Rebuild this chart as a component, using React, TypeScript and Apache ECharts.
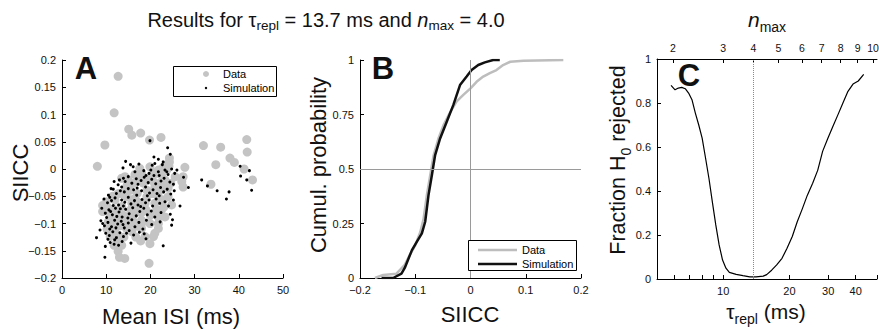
import React, { useEffect, useRef } from 'react';
import * as echarts from 'echarts';

const FONT = '"Liberation Sans", Arial, Helvetica, sans-serif';
const GRAY = '#c4c4c4';

// ---------- Panel A: Mean ISI (ms) vs SIICC ----------
const dataPoints: [number, number][] = [
  [12.7, 0.170], [11.8, 0.103], [9.7, 0.044], [15.1, 0.073], [15.8, 0.062], [17.8, 0.066], [19.8, 0.053], [22.4, 0.058], [8.0, 0.005],
  [32.0, 0.043], [35.9, 0.040], [41.8, 0.054], [41.9, 0.031], [38.0, 0.020], [39.0, 0.012], [34.8, 0.008], [41.2, 0.0], [43.1, -0.020], [33.7, -0.028],
  [24.3, 0.020], [24.3, 0.013], [24.2, 0.005], [27.8, 0.003], [27.4, -0.014], [27.1, -0.023], [27.4, -0.033], [25.6, -0.014], [24.6, -0.026], [23.3, -0.020], [24.8, -0.066], [24.0, -0.051], [22.9, -0.057],
  [21.8, -0.002], [21.4, -0.008], [22.5, -0.011], [21.0, -0.033], [22.2, -0.039], [17.6, 0.001], [18.0, -0.008], [17.5, -0.017], [16.9, -0.023], [18.4, -0.026], [19.2, -0.039], [19.9, 0.004], [19.9, -0.014], [21.0, -0.008], [20.7, -0.023], [21.4, -0.039], [22.2, -0.026], [23.0, 0.004], [23.7, -0.002], [23.3, -0.033], [19.2, -0.051], [18.8, -0.063], [21.8, -0.051], [21.0, -0.063],
  [22.5, -0.075], [23.3, -0.088], [21.8, -0.100], [21.8, -0.109], [21.0, -0.118], [20.7, -0.124], [19.9, -0.137], [18.0, -0.100], [18.0, -0.109], [18.8, -0.124], [19.7, -0.173], [17.8, -0.132], [21.4, -0.075], [21.8, -0.088], [19.9, -0.100],
  [9.2, -0.067], [9.2, -0.078], [10.1, -0.069], [10.9, -0.088], [10.5, -0.097], [11.2, -0.106], [11.6, -0.115], [10.9, -0.124], [12.4, -0.121], [12.75, -0.134], [12.0, -0.057], [12.75, -0.045], [13.5, -0.017], [14.25, -0.014], [14.6, -0.033], [15.4, -0.039], [14.6, -0.051], [15.8, -0.063], [16.9, -0.069], [16.5, -0.081], [15.0, -0.088], [15.4, -0.100], [15.8, -0.115], [14.6, -0.109], [13.5, -0.069], [13.9, -0.085], [12.75, -0.094], [18.0, -0.094], [12.7, -0.151], [13.0, -0.162], [14.2, -0.164], [11.0, -0.082], [12.0, -0.075], [13.2, -0.104], [14.0, -0.125], [16.0, -0.027], [15.0, -0.020], [17.0, -0.045], [16.3, -0.055], [11.5, -0.050],
  [10.0, -0.060], [10.5, -0.072], [11.5, -0.095], [12.0, -0.110], [13.0, -0.085], [14.0, -0.095], [15.5, -0.075], [16.0, -0.095], [17.0, -0.105], [16.7, -0.125], [13.5, -0.045], [14.8, -0.028], [16.5, -0.010], [17.0, -0.060], [18.0, -0.080], [19.0, -0.075], [20.0, -0.085], [19.5, -0.020], [20.5, -0.045], [23.0, -0.070], [10.2, -0.110], [11.8, -0.140], [13.5, -0.140], [24.0, -0.035],
];

const simulationPoints: [number, number][] = [
  [31.6, -0.020], [32.9, -0.031], [35.1, -0.040], [37.2, -0.055], [37.8, -0.042], [40.3, 0.005], [40.4, -0.013], [41.8, -0.020], [42.4, -0.003], [42.9, -0.039], [28.6, -0.034],
  [19.9, 0.052], [23.9, 0.039], [7.8, -0.126], [9.7, -0.162], [11.8, -0.138], [22.9, -0.141], [26.7, -0.068], [24.8, -0.103], [25.0, -0.093], [14.4, 0.014], [17.4, 0.009], [21.8, 0.018], [20.4, 0.007], [21.0, 0.010], [22.7, 0.008], [26.0, -0.002], [27.5, -0.015],
  [23.3, -0.002], [23.7, -0.005], [24.8, 0.0], [20.1, -0.002], [19.7, -0.008], [21.8, -0.005], [16.1, 0.004], [16.5, -0.005], [18.5, -0.003], [22.0, -0.012], [24.0, -0.010], [25.5, -0.008],
  [15.0, -0.014], [13.9, -0.017], [14.3, -0.023], [11.8, -0.023], [12.7, -0.029], [16.8, -0.018], [17.9, -0.021], [18.6, -0.015], [19.5, -0.025], [20.3, -0.019], [21.2, -0.027], [22.4, -0.022], [23.1, -0.017], [24.4, -0.024], [25.2, -0.028], [19.0, -0.012], [20.8, -0.012], [17.2, -0.028], [15.8, -0.026], [13.0, -0.020],
  [11.6, -0.037], [11.1, -0.036], [13.5, -0.033], [15.0, -0.036], [14.1, -0.042], [16.2, -0.038], [17.0, -0.035], [18.0, -0.040], [18.9, -0.033], [19.8, -0.044], [20.6, -0.038], [21.5, -0.045], [22.3, -0.034], [23.0, -0.042], [23.8, -0.037], [24.6, -0.046], [25.4, -0.040], [12.3, -0.045], [10.5, -0.048], [16.9, -0.048], [19.3, -0.049], [22.0, -0.049], [13.2, -0.040],
  [9.5, -0.055], [10.3, -0.062], [11.2, -0.058], [12.0, -0.053], [12.8, -0.066], [13.5, -0.057], [14.2, -0.061], [15.0, -0.052], [15.6, -0.064], [16.4, -0.058], [17.2, -0.066], [18.1, -0.056], [18.9, -0.062], [19.7, -0.057], [20.5, -0.068], [21.3, -0.055], [22.1, -0.063], [23.3, -0.060], [24.1, -0.068], [25.2, -0.057], [13.9, -0.068], [11.6, -0.067], [17.8, -0.069], [10.8, -0.052],
  [9.0, -0.072], [9.8, -0.081], [10.6, -0.075], [11.4, -0.084], [12.1, -0.072], [12.9, -0.079], [13.6, -0.088], [14.4, -0.074], [15.2, -0.082], [16.0, -0.071], [16.8, -0.086], [17.6, -0.078], [18.5, -0.072], [19.3, -0.084], [20.2, -0.077], [21.0, -0.088], [22.4, -0.080], [24.5, -0.083], [10.1, -0.089], [12.4, -0.087], [14.9, -0.090], [13.2, -0.073], [11.0, -0.078],
  [8.8, -0.095], [9.6, -0.104], [10.4, -0.098], [11.2, -0.106], [11.9, -0.094], [12.6, -0.101], [13.4, -0.096], [14.1, -0.108], [15.0, -0.099], [15.8, -0.093], [16.5, -0.106], [17.4, -0.098], [18.3, -0.110], [19.1, -0.094], [20.3, -0.102], [22.2, -0.097], [10.8, -0.110], [12.2, -0.108], [13.8, -0.102], [9.2, -0.100],
  [9.9, -0.118], [10.7, -0.122], [11.5, -0.115], [12.3, -0.126], [13.1, -0.117], [13.9, -0.124], [15.2, -0.113], [16.2, -0.121], [17.5, -0.116], [18.6, -0.119], [19.0, -0.128], [10.4, -0.129], [11.9, -0.130], [14.6, -0.118], [8.6, -0.112],
  [10.9, -0.135], [12.8, -0.140], [13.6, -0.133], [15.6, -0.136], [9.8, -0.142],
  [13.8, 0.002], [15.5, 0.008], [22.9, 0.013], [24.5, 0.027], [20.8, 0.022],
];

// ---------- Panel B: cumulative distributions of SIICC ----------
const cdfDataX = [-0.173, -0.158, -0.134, -0.119, -0.110, -0.100, -0.091, -0.085, -0.079, -0.073, -0.067, -0.058, -0.049, -0.037, -0.025, -0.013, 0.0, 0.011, 0.023, 0.035, 0.047, 0.059, 0.072, 0.096, 0.168];
const cdfDataY = [0.0, 0.014, 0.02, 0.06, 0.105, 0.15, 0.21, 0.27, 0.38, 0.47, 0.56, 0.64, 0.70, 0.76, 0.81, 0.84, 0.87, 0.90, 0.924, 0.94, 0.954, 0.977, 0.992, 0.997, 1.0];
const cdfSimX = [-0.161, -0.140, -0.125, -0.119, -0.106, -0.097, -0.088, -0.082, -0.076, -0.070, -0.064, -0.055, -0.043, -0.031, -0.019, -0.007, 0.002, 0.014, 0.026, 0.041, 0.053];
const cdfSimY = [0.0, 0.0, 0.02, 0.046, 0.128, 0.167, 0.205, 0.258, 0.38, 0.47, 0.564, 0.64, 0.717, 0.794, 0.885, 0.924, 0.954, 0.977, 0.989, 1.0, 1.0];

// ---------- Panel C: fraction H0 rejected vs tau_repl ----------
const tauRepl = [5.79, 6.04, 6.25, 6.48, 6.72, 6.96, 7.21, 7.47, 7.74, 8.02, 8.31, 8.61, 8.92, 9.25, 9.58, 9.93, 10.29, 10.66, 11.45, 12.29, 13.2, 14.1, 15.2, 15.76, 16.6, 17.5, 18.5, 19.5, 20.6, 21.7, 22.9, 24.1, 25.5, 26.9, 28.3, 29.9, 31.5, 33.2, 35.0, 36.9, 38.9, 41.1, 43.5];
const fracRejected = [0.88, 0.86, 0.868, 0.871, 0.865, 0.845, 0.815, 0.754, 0.70, 0.64, 0.55, 0.458, 0.352, 0.246, 0.155, 0.086, 0.049, 0.03, 0.021, 0.015, 0.01, 0.01, 0.013, 0.02, 0.04, 0.064, 0.094, 0.14, 0.193, 0.26, 0.32, 0.38, 0.435, 0.495, 0.58, 0.64, 0.693, 0.746, 0.80, 0.853, 0.886, 0.90, 0.93];
const tauBest = 13.7;

// ticks
const tauTickValues = [6, 7, 8, 9, 10, 20, 30, 40, 50];
const tauLabelValues = [10, 20, 30, 40];
const nmaxLabels = [2, 3, 4, 5, 6, 7, 8, 9, 10];
const nmaxTau = [5.9, 10, 13.7, 17.8, 22.8, 28.0, 34.2, 40.8, 48.0];

const fmtNum = (v: number) => {
  const s = String(parseFloat(Number(v).toFixed(3)));
  return s === '-0' ? '0' : s.replace('-', '\u2212');
};

const axisLine = { show: true, onZero: false, lineStyle: { color: '#000', width: 1 } };
const axisTick = { show: true, inside: true, length: 4, lineStyle: { color: '#000', width: 1 } };
const labelBase = { color: '#111', fontSize: 11, fontFamily: FONT, margin: 6 };

export default function App() {
  const ref = useRef<HTMLDivElement>(null);
  useEffect(() => {
    if (!ref.current) return;
    const chart = echarts.init(ref.current, undefined, { renderer: 'svg' });

    const subRich = (size: number, pad: number) => ({ fontSize: size, fontFamily: FONT, padding: [pad, 0, 0, 0], verticalAlign: 'top' });

    const option: any = {
      animation: false,
      backgroundColor: '#fff',
      grid: [
        { left: 62, top: 60, width: 221, height: 218, containLabel: false, outerBoundsMode: 'none' },
        { left: 360, top: 60, width: 221, height: 218, containLabel: false, outerBoundsMode: 'none' },
        { left: 657, top: 59, width: 220, height: 220, containLabel: false, outerBoundsMode: 'none' },
      ],
      xAxis: [
        { type: 'value', gridIndex: 0, min: 0, max: 50, interval: 10, axisLine, axisTick, splitLine: { show: false }, axisLabel: { ...labelBase, formatter: fmtNum } },
        { type: 'value', gridIndex: 1, min: -0.2, max: 0.2, interval: 0.1, axisLine, axisTick, splitLine: { show: false }, axisLabel: { ...labelBase, formatter: fmtNum } },
        {
          type: 'log', logBase: 10, gridIndex: 2, min: 5, max: 50, axisLine,
          axisTick: { ...axisTick, customValues: tauTickValues },
          splitLine: { show: false }, minorTick: { show: false },
          axisLabel: { ...labelBase, customValues: tauLabelValues, formatter: (v: number) => String(Math.round(v)) },
        },
        {
          type: 'log', logBase: 10, gridIndex: 2, position: 'top', min: 5, max: 50, axisLine,
          axisTick: { ...axisTick, customValues: nmaxTau },
          splitLine: { show: false }, minorTick: { show: false },
          axisLabel: {
            ...labelBase, fontSize: 10.5, customValues: nmaxTau,
            formatter: (v: number) => {
              let best = 0;
              nmaxTau.forEach((t, i) => { if (Math.abs(t - v) < Math.abs(nmaxTau[best] - v)) best = i; });
              return String(nmaxLabels[best]);
            },
          },
        },
      ],
      yAxis: [
        { type: 'value', gridIndex: 0, min: -0.2, max: 0.2, interval: 0.05, axisLine, axisTick, splitLine: { show: false }, axisLabel: { ...labelBase, formatter: fmtNum } },
        { type: 'value', gridIndex: 1, min: 0, max: 1, interval: 0.25, axisLine, axisTick, splitLine: { show: false }, axisLabel: { ...labelBase, formatter: fmtNum } },
        { type: 'value', gridIndex: 2, min: 0, max: 1, interval: 0.2, axisLine, axisTick, splitLine: { show: false }, axisLabel: { ...labelBase, formatter: fmtNum } },
      ],
      series: [
        {
          type: 'scatter', xAxisIndex: 0, yAxisIndex: 0, data: dataPoints, symbol: 'circle', symbolSize: 9,
          itemStyle: { color: GRAY, opacity: 1 }, z: 2,
        },
        {
          type: 'scatter', xAxisIndex: 0, yAxisIndex: 0, data: simulationPoints, symbol: 'circle', symbolSize: 3,
          itemStyle: { color: '#000', opacity: 1 }, z: 3,
        },
        {
          type: 'line', xAxisIndex: 1, yAxisIndex: 1, data: [], z: 1,
          markLine: {
            silent: true, symbol: 'none', label: { show: false },
            lineStyle: { color: '#9a9a9a', width: 1, type: 'solid' },
            data: [{ xAxis: 0 }, { yAxis: 0.5 }],
          },
        },
        {
          type: 'line', xAxisIndex: 1, yAxisIndex: 1, data: cdfDataX.map((x, i) => [x, cdfDataY[i]]),
          showSymbol: false, symbol: 'none', lineStyle: { color: '#bdbdbd', width: 2.5 }, z: 3,
        },
        {
          type: 'line', xAxisIndex: 1, yAxisIndex: 1, data: cdfSimX.map((x, i) => [x, cdfSimY[i]]),
          showSymbol: false, symbol: 'none', lineStyle: { color: '#111', width: 2.5 }, z: 4,
        },
        {
          type: 'line', xAxisIndex: 2, yAxisIndex: 2, data: tauRepl.map((t, i) => [t, fracRejected[i]]),
          showSymbol: false, symbol: 'none', lineStyle: { color: '#000', width: 1.2 }, z: 3,
          markLine: {
            silent: true, symbol: 'none', label: { show: false },
            lineStyle: { color: '#8a8a8a', width: 1, type: 'dotted' },
            data: [{ xAxis: tauBest }],
          },
        },
      ],
      graphic: [
        {
          type: 'text', x: 326, y: 20,
          style: {
            text: 'Results for {g|τ}{s|repl} = 13.7 ms and {i|n}{s|max} = 4.0',
            fontSize: 20, fontFamily: FONT, fill: '#111', align: 'center', verticalAlign: 'middle',
            rich: { g: { fontSize: 20, fontFamily: FONT }, i: { fontSize: 20, fontFamily: FONT, fontStyle: 'italic' }, s: subRich(13.5, 11) },
          },
        },
        {
          type: 'text', x: 767, y: 19,
          style: {
            text: '{i|n}{s|max}', fontSize: 21, fontFamily: FONT, fill: '#111', align: 'center', verticalAlign: 'middle',
            rich: { i: { fontSize: 21, fontFamily: FONT, fontStyle: 'italic' }, s: subRich(14, 16) },
          },
        },
        {
          type: 'text', x: 766, y: 311,
          style: {
            text: '{g|τ}{s|repl} (ms)', fontSize: 21, fontFamily: FONT, fill: '#111', align: 'center', verticalAlign: 'middle',
            rich: { g: { fontSize: 21, fontFamily: FONT }, s: subRich(14, 16) },
          },
        },
        {
          type: 'text', x: 618, y: 160, rotation: Math.PI / 2,
          style: {
            text: 'Fraction H{s|0} rejected', fontSize: 21.5, fontFamily: FONT, fill: '#111', align: 'center', verticalAlign: 'middle',
            rich: { s: subRich(14, 16) },
          },
        },
        { type: 'text', x: 171, y: 316, style: { text: 'Mean ISI (ms)', fontSize: 22, fontFamily: FONT, fill: '#111', align: 'center', verticalAlign: 'middle' } },
        { type: 'text', x: 20, y: 173, rotation: Math.PI / 2, style: { text: 'SIICC', fontSize: 22, fontFamily: FONT, fill: '#111', align: 'center', verticalAlign: 'middle' } },
        { type: 'text', x: 470, y: 314, style: { text: 'SIICC', fontSize: 22, fontFamily: FONT, fill: '#111', align: 'center', verticalAlign: 'middle' } },
        { type: 'text', x: 318, y: 165, rotation: Math.PI / 2, style: { text: 'Cumul. probability', fontSize: 22, fontFamily: FONT, fill: '#111', align: 'center', verticalAlign: 'middle' } },
        { type: 'text', x: 86, y: 68, style: { text: 'A', fontSize: 31, fontWeight: 'bold', fontFamily: FONT, fill: '#111', align: 'center', verticalAlign: 'middle' } },
        { type: 'text', x: 383, y: 68, style: { text: 'B', fontSize: 31, fontWeight: 'bold', fontFamily: FONT, fill: '#111', align: 'center', verticalAlign: 'middle' } },
        { type: 'text', x: 689, y: 75, style: { text: 'C', fontSize: 31, fontWeight: 'bold', fontFamily: FONT, fill: '#111', align: 'center', verticalAlign: 'middle' } },
        // Legend A
        { type: 'rect', shape: { x: 173.5, y: 66.5, width: 103, height: 30 }, style: { fill: '#fff', stroke: '#000', lineWidth: 1 }, z: 10 },
        { type: 'circle', shape: { cx: 206, cy: 74, r: 3 }, style: { fill: GRAY }, z: 11 },
        { type: 'circle', shape: { cx: 206, cy: 88, r: 1.2 }, style: { fill: '#000' }, z: 11 },
        { type: 'text', x: 223, y: 74, style: { text: 'Data', fontSize: 11, fontFamily: FONT, fill: '#000', align: 'left', verticalAlign: 'middle' }, z: 11 },
        { type: 'text', x: 223, y: 88, style: { text: 'Simulation', fontSize: 11, fontFamily: FONT, fill: '#000', align: 'left', verticalAlign: 'middle' }, z: 11 },
        // Legend B
        { type: 'rect', shape: { x: 468.5, y: 240.5, width: 108, height: 30 }, style: { fill: '#fff', stroke: '#000', lineWidth: 1 }, z: 10 },
        { type: 'line', shape: { x1: 478, y1: 250, x2: 517, y2: 250 }, style: { stroke: '#bdbdbd', lineWidth: 2.5 }, z: 11 },
        { type: 'line', shape: { x1: 478, y1: 264, x2: 517, y2: 264 }, style: { stroke: '#111', lineWidth: 2.5 }, z: 11 },
        { type: 'text', x: 522, y: 250, style: { text: 'Data', fontSize: 11, fontFamily: FONT, fill: '#000', align: 'left', verticalAlign: 'middle' }, z: 11 },
        { type: 'text', x: 522, y: 264, style: { text: 'Simulation', fontSize: 11, fontFamily: FONT, fill: '#000', align: 'left', verticalAlign: 'middle' }, z: 11 },
      ],
    };
    chart.setOption(option);
    return () => chart.dispose();
  }, []);
  return <div ref={ref} style={{ position: 'absolute', left: 0, top: 0, width: 879, height: 329 }} />;
}
